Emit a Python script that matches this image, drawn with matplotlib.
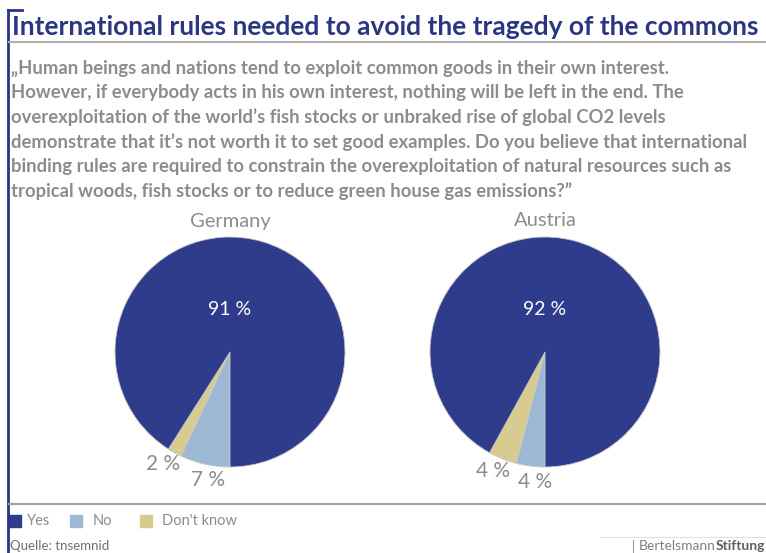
import numpy as np
import matplotlib.pyplot as plt
from matplotlib.lines import Line2D
from matplotlib.patches import Rectangle

categories = ['Yes', 'No', "Don't know"]
countries = ['Germany', 'Austria']
germany = [91, 7, 2]
austria = [92, 4, 4]
colors = ['#2f3b8b', '#9cb8d4', '#d7cb8f']

title = 'International rules needed to avoid the tragedy of the commons'
question = ('\u201eHuman beings and nations tend to exploit common goods in their own interest.\n'
            'However, if everybody acts in his own interest, nothing will be left in the end. The\n'
            'overexploitation of the world\u2019s fish stocks or unbraked rise of global CO2 levels\n'
            'demonstrate that it\u2019s not worth it to set good examples. Do you believe that international\n'
            'binding rules are required to constrain the overexploitation of natural resources such as\n'
            'tropical woods, fish stocks or to reduce green house gas emissions?\u201d')

W, H = 766, 553
navy = '#2b3683'
grey = '#8c8c8c'
font = 'Lato'

fig = plt.figure(figsize=(W / 100, H / 100), dpi=100)
fig.patch.set_facecolor('white')
renderer = fig.canvas.get_renderer()


def fx(x):
    return x / W


def fy(y):
    return 1 - y / H


def fit_width(txt, target):
    # scale the font so the text block spans the given pixel width
    w = txt.get_window_extent(renderer).width
    txt.set_fontsize(txt.get_fontsize() * target / w)


# frame lines
fig.add_artist(Line2D([fx(8), fx(8)], [fy(10), fy(553)], color=navy, lw=2))
fig.add_artist(Line2D([fx(8), fx(22)], [fy(10), fy(10)], color=navy, lw=2))
fig.add_artist(Line2D([fx(9), fx(766)], [fy(42), fy(42)], color='#b0b0b0', lw=1.5))
fig.add_artist(Line2D([fx(9), fx(766)], [fy(504), fy(504)], color='#a0a0a0', lw=1.5))
fig.add_artist(Line2D([fx(600), fx(766)], [fy(537), fy(537)], color='#e0e0e0', lw=0.8))
fig.add_artist(Line2D([fx(633), fx(633)], [fy(540), fy(553)], color='#9a9a9a', lw=0.8))

t_title = fig.text(fx(12), fy(27), title, color=navy, fontsize=19, fontweight='bold',
                   family=font, va='center', ha='left')
fit_width(t_title, 746)
t_q = fig.text(fx(11), fy(60), question, color=grey, fontsize=13, fontweight='bold',
               family=font, va='top', ha='left', linespacing=1.49)
fit_width(t_q, 734)

centers = [(230, 352), (545, 352)]
radius = 115
# small outside labels are nudged apart a little
nudge = {1: 3.0, 2: -2.0}
for (cx, cy), name, vals in zip(centers, countries, [germany, austria]):
    ax = fig.add_axes([fx(cx - radius), fy(cy + radius), 2 * radius / W, 2 * radius / H])
    # draw clockwise from six o'clock: No, Don't know, then Yes
    order = [1, 2, 0]
    wedges, _ = ax.pie([vals[i] for i in order], colors=[colors[i] for i in order],
                       startangle=270, counterclock=False,
                       wedgeprops=dict(edgecolor='#c8c8c8', linewidth=0.6))
    ax.set_xlim(-1, 1)
    ax.set_ylim(-1, 1)
    ax.set_aspect('auto')
    ax.axis('off')
    for w, i in zip(wedges, order):
        if i == 0:
            ax.text(0, 0.37, f'{vals[i]} %', color='white', fontsize=14,
                    family=font, ha='center', va='center')
        else:
            ang = np.deg2rad((w.theta1 + w.theta2) / 2 + nudge[i])
            ax.text(1.13 * np.cos(ang), 1.13 * np.sin(ang), f'{vals[i]} %', color=grey,
                    fontsize=15, family=font, ha='center', va='center', clip_on=False)
    fig.text(fx(cx), fy(221), name, color=grey, fontsize=14.5, family=font,
             ha='center', va='center')

# legend
box_x = [9, 70, 140]
text_x = [27, 93, 162]
for bx, tx, lab, c in zip(box_x, text_x, categories, colors):
    fig.add_artist(Rectangle((fx(bx), fy(527)), 12 / W, 12 / H, color=c))
    fig.text(fx(tx), fy(521), lab, color=grey, fontsize=10.5, family=font,
             va='center', ha='left')

fig.text(fx(10), fy(546), 'Quelle: tnsemnid', color='#707070', fontsize=9.5,
         family=font, va='center', ha='left')
t_b = fig.text(fx(639), fy(546), 'Bertelsmann', color='#808080', fontsize=10,
               family=font, va='center', ha='left')
bx = t_b.get_window_extent(renderer).x1
fig.text(bx / W, fy(546), 'Stiftung', color='#606060', fontsize=10,
         fontweight='bold', family=font, va='center', ha='left')

fig.savefig('out.png', dpi=100)
